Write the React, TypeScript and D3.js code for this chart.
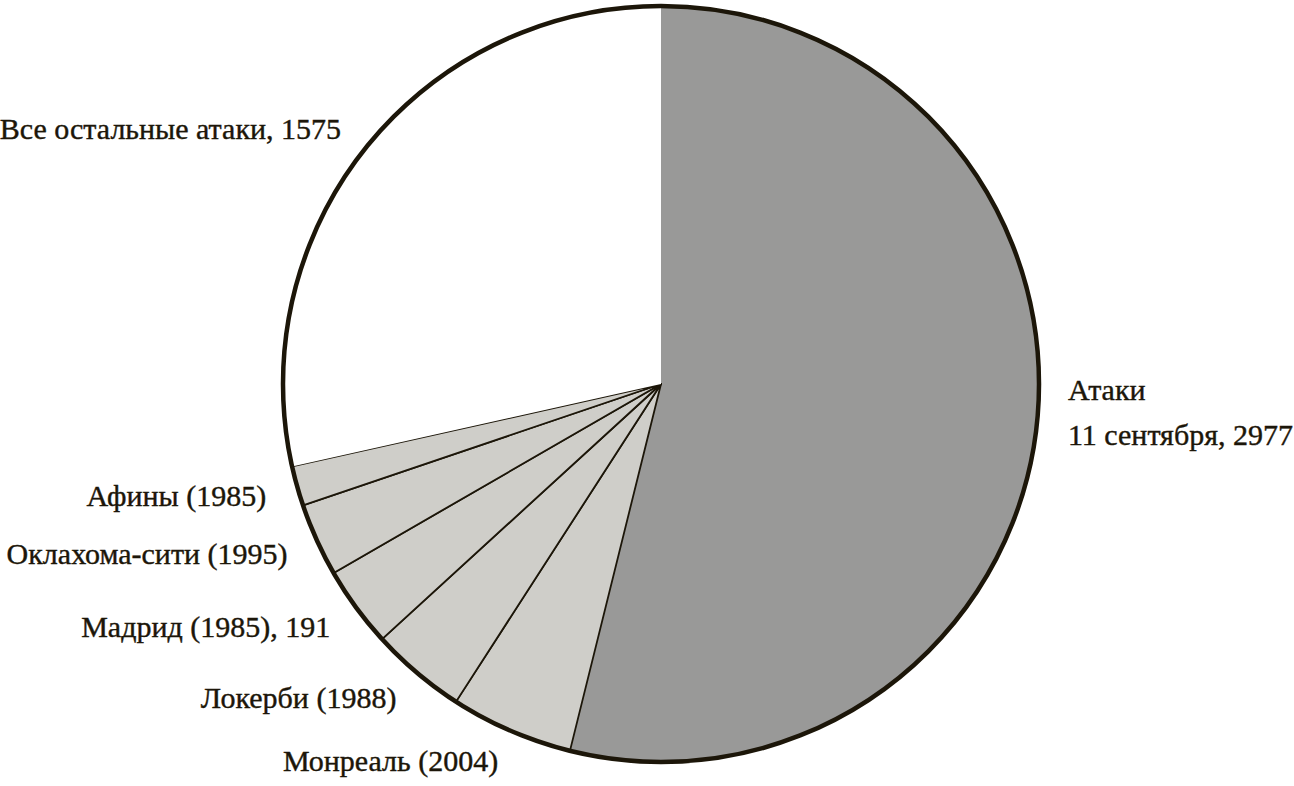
import { useMemo } from "react";
import { pie, arc } from "d3";

// attacks in clockwise order from 12 o'clock
const names = [
  "Атаки|11 сентября, 2977",
  "Монреаль (2004)",
  "Локерби (1988)",
  "Мадрид (1985), 191",
  "Оклахома-сити (1995)",
  "Афины (1985)",
  "Все остальные атаки, 1575",
];
const deaths = [2977, 290, 226, 191, 173, 94, 1575];
const kinds = ["big", "small", "small", "small", "small", "small", "rest"];

const W = 1294;
const H = 786;
const cx = 661;
const cy = 384;
const R = 378;
const labelR = 410;

const fills: Record<string, string> = {
  big: "#999998",
  small: "#cfcec9",
  rest: "#ffffff",
};
const ink = "#1c1609";

export default function App() {
  const arcs = useMemo(
    () => pie<number>().sort(null).value((d) => d)(deaths),
    []
  );
  const slice = arc<any>().innerRadius(0).outerRadius(R);
  const labelArc = arc<any>().innerRadius(labelR).outerRadius(labelR);

  return (
    <svg
      width={W}
      height={H}
      style={{ position: "absolute", left: 0, top: 0, background: "#fff" }}
      fontFamily="'Liberation Serif', serif"
    >
      <g transform={`translate(${cx},${cy})`}>
        {arcs.map((a, i) => (
          <path
            key={i}
            d={slice(a) as string}
            fill={fills[kinds[i]]}
            stroke={kinds[i] === "small" ? ink : "none"}
            strokeWidth={1.8}
            strokeLinejoin="round"
          />
        ))}
        <circle r={R} fill="none" stroke={ink} strokeWidth={4.5} />
        {arcs.map((a, i) => {
          const [x, y] = labelArc.centroid(a);
          const lines = names[i].split("|");
          const anchor = x > 0 ? "start" : "end";
          const lh = 45;
          const y0 = y - (lines.length - 1) * lh;
          return (
            <text
              key={i}
              x={x}
              y={y0}
              textAnchor={anchor}
              dominantBaseline="central"
              fontSize={30}
              fill={ink}
              stroke={ink}
              strokeWidth={0.4}
            >
              {lines.map((l, j) => (
                <tspan key={j} x={x} dy={j === 0 ? 0 : lh}>
                  {l}
                </tspan>
              ))}
            </text>
          );
        })}
      </g>
    </svg>
  );
}
